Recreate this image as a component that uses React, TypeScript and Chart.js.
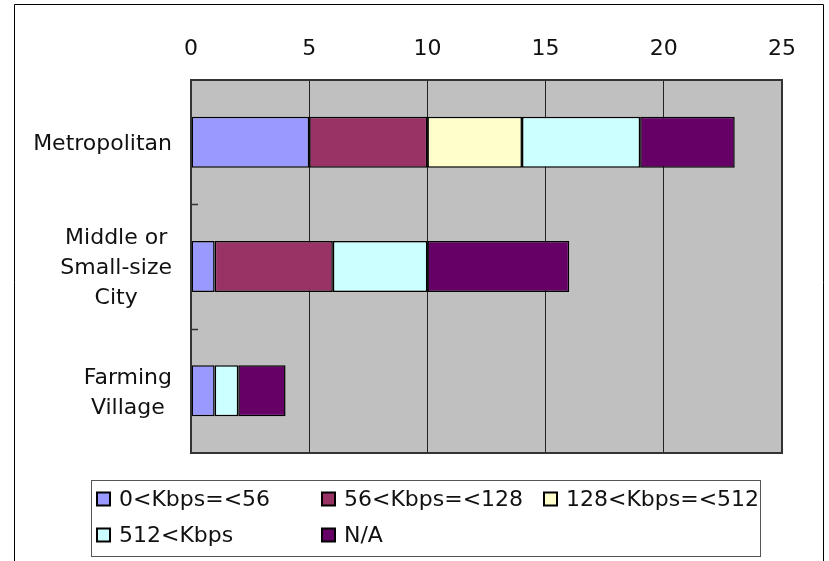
import React, { useEffect, useRef } from "react";
import { Chart, registerables } from "chart.js";

Chart.register(...registerables);

// ---- data ----
const categoryLines: string[][] = [
  ["Metropolitan"],
  ["Middle or", "Small-size", "City"],
  ["Farming", "Village"],
];
const seriesLabels = ["0<Kbps=<56", "56<Kbps=<128", "128<Kbps=<512", "512<Kbps", "N/A"];
const seriesColors = ["#9999FF", "#993366", "#FFFFCC", "#CCFFFF", "#660066"];
const kbps0to56 = [5, 1, 1];
const kbps56to128 = [5, 5, 0];
const kbps128to512 = [4, 0, 0];
const kbps512plus = [5, 4, 1];
const notAvailable = [4, 6, 2];
const xTickValues = [0, 5, 10, 15, 20, 25];

const seriesValues = [kbps0to56, kbps56to128, kbps128to512, kbps512plus, notAvailable];

const FONT = '"DejaVu Sans", sans-serif';
const FONT_SIZE = 22;
const TEXT_COLOR = "#111";

const decorPlugin = {
  id: "decor",
  beforeDraw(chart: any) {
    const { ctx, chartArea } = chart;
    ctx.save();
    ctx.fillStyle = "#ffffff";
    ctx.fillRect(0, 0, chart.width, chart.height);
    ctx.fillStyle = "#C0C0C0";
    ctx.fillRect(chartArea.left, chartArea.top, chartArea.right - chartArea.left, chartArea.bottom - chartArea.top);
    ctx.restore();
  },
  afterDraw(chart: any) {
    const { ctx, chartArea } = chart;
    const yScale = chart.scales.y;
    ctx.save();
    // plot border
    ctx.strokeStyle = "#333";
    ctx.lineWidth = 2;
    ctx.strokeRect(chartArea.left, chartArea.top, chartArea.right - chartArea.left, chartArea.bottom - chartArea.top);

    // small inside tick marks between categories
    ctx.lineWidth = 1.5;
    for (let i = 1; i < categoryLines.length; i++) {
      const y = Math.round((yScale.getPixelForValue(i - 1) + yScale.getPixelForValue(i)) / 2) + 0.5;
      ctx.beginPath();
      ctx.moveTo(chartArea.left, y);
      ctx.lineTo(chartArea.left + 7, y);
      ctx.stroke();
    }

    // category labels: blocks right aligned, lines centered inside block
    ctx.font = `${FONT_SIZE}px ${FONT}`;
    ctx.fillStyle = TEXT_COLOR;
    ctx.textAlign = "center";
    ctx.textBaseline = "middle";
    const lineGap = 30;
    const rightEdge = 172;
    categoryLines.forEach((lines, i) => {
      const yc = yScale.getPixelForValue(i) + 2;
      const maxW = Math.max(...lines.map((l) => ctx.measureText(l).width));
      const cx = rightEdge - maxW / 2;
      lines.forEach((line, j) => {
        ctx.fillText(line, cx, yc + (j - (lines.length - 1) / 2) * lineGap);
      });
    });

    // legend
    ctx.strokeStyle = "#555";
    ctx.lineWidth = 1;
    ctx.strokeRect(91.5, 480.5, 669, 76);
    const colX = [97, 322, 544];
    const rowY = [499, 535];
    ctx.textAlign = "left";
    seriesLabels.forEach((label, k) => {
      const x = colX[k % 3];
      const y = rowY[Math.floor(k / 3)];
      ctx.fillStyle = seriesColors[k];
      ctx.fillRect(x, y - 6.5, 13, 13);
      ctx.strokeStyle = "#000";
      ctx.lineWidth = 2;
      ctx.strokeRect(x, y - 6.5, 13, 13);
      ctx.fillStyle = TEXT_COLOR;
      ctx.fillText(label, x + 22, y + 1);
    });

    // outer frame
    ctx.strokeStyle = "#000";
    ctx.lineWidth = 1;
    ctx.beginPath();
    ctx.moveTo(14.5, 561);
    ctx.lineTo(14.5, 4.5);
    ctx.lineTo(823.5, 4.5);
    ctx.lineTo(823.5, 561);
    ctx.stroke();
    ctx.restore();
  },
};

export default function App() {
  const canvasRef = useRef<HTMLCanvasElement | null>(null);

  useEffect(() => {
    const canvas = canvasRef.current;
    if (!canvas) return;
    const chart = new Chart(canvas, {
      type: "bar",
      data: {
        labels: categoryLines.map((l) => l.join(" ")),
        datasets: seriesLabels.map((label, k) => ({
          label,
          data: seriesValues[k],
          backgroundColor: seriesColors[k],
          borderColor: "#000",
          borderWidth: 1.5,
          borderSkipped: false,
          barPercentage: 0.41,
          categoryPercentage: 1,
        })),
      },
      options: {
        indexAxis: "y",
        responsive: false,
        animation: false,
        layout: { padding: { left: 0, top: 0, right: 47, bottom: 108 } },
        plugins: {
          legend: { display: false },
          tooltip: { enabled: false },
        },
        scales: {
          x: {
            position: "top",
            stacked: true,
            min: 0,
            max: 25,
            afterFit(scale: any) {
              scale.height = 80;
            },
            afterBuildTicks(scale: any) {
              scale.ticks = xTickValues.map((v) => ({ value: v }));
            },
            grid: { color: "#222", lineWidth: 1, drawTicks: false },
            border: { display: false },
            ticks: {
              padding: 18,
              color: TEXT_COLOR,
              font: { family: FONT, size: FONT_SIZE },
            },
          },
          y: {
            stacked: true,
            afterFit(scale: any) {
              scale.width = 191;
            },
            grid: { display: false },
            border: { display: false },
            ticks: { display: false },
          },
        },
      },
      plugins: [decorPlugin],
    } as any);
    return () => chart.destroy();
  }, []);

  return (
    <div style={{ position: "fixed", left: 0, top: 0, width: 829, height: 561 }}>
      <canvas ref={canvasRef} width={829} height={561} />
    </div>
  );
}
